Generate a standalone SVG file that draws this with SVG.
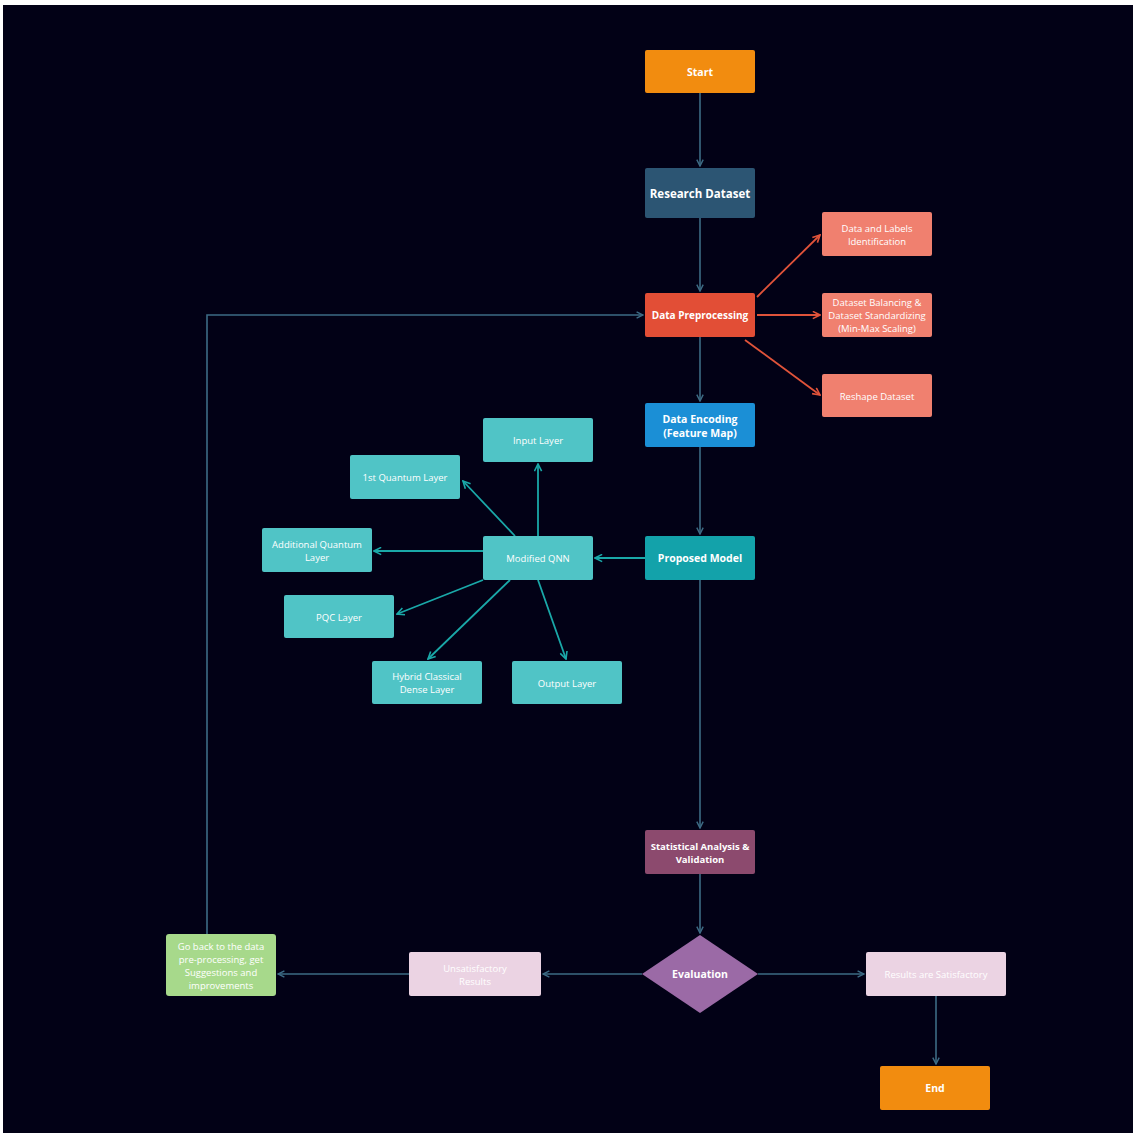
<svg xmlns="http://www.w3.org/2000/svg" width="1137" height="1137" viewBox="0 0 1137 1137">
<style>
text{font-family:"Open Sans","Liberation Sans",sans-serif;fill:#ffffff;text-anchor:middle;dominant-baseline:central}
.b{font-weight:bold;font-size:10.5px}
.r{font-size:9.5px}
.main{stroke:#3d6b85;stroke-width:1.6;fill:none}
.red{stroke:#e0533a;stroke-width:1.8;fill:none}
.teal{stroke:#1aa8a8;stroke-width:1.8;fill:none}
</style>
<defs>
<marker id="aM" viewBox="0 0 10 10" refX="9" refY="5" markerWidth="8" markerHeight="8" orient="auto" markerUnits="userSpaceOnUse"><path d="M1,1 L9,5 L1,9" fill="none" stroke="#3d6b85" stroke-width="1.8"/></marker>
<marker id="aR" viewBox="0 0 10 10" refX="9" refY="5" markerWidth="9" markerHeight="9" orient="auto" markerUnits="userSpaceOnUse"><path d="M1,1 L9,5 L1,9" fill="none" stroke="#e0533a" stroke-width="1.8"/></marker>
<marker id="aT" viewBox="0 0 10 10" refX="9" refY="5" markerWidth="9" markerHeight="9" orient="auto" markerUnits="userSpaceOnUse"><path d="M1,1 L9,5 L1,9" fill="none" stroke="#1aa8a8" stroke-width="1.8"/></marker>
</defs>
<rect x="0" y="0" width="1137" height="1137" fill="#ffffff"/>
<rect x="3" y="5" width="1130" height="1128" fill="#020116"/>
<g id="connectors">
<path class="main" d="M700,93 V166" marker-end="url(#aM)"/>
<path class="main" d="M700,218 V291" marker-end="url(#aM)"/>
<path class="main" d="M700,337 V401" marker-end="url(#aM)"/>
<path class="main" d="M700,447 V534" marker-end="url(#aM)"/>
<path class="main" d="M700,580 V828" marker-end="url(#aM)"/>
<path class="main" d="M700,874 V933" marker-end="url(#aM)"/>
<path class="main" d="M758,974 H864" marker-end="url(#aM)"/>
<path class="main" d="M642,974 H543" marker-end="url(#aM)"/>
<path class="main" d="M409,974 H278" marker-end="url(#aM)"/>
<path class="main" d="M207,934 V315 H643" marker-end="url(#aM)"/>
<path class="main" d="M936,996 V1064" marker-end="url(#aM)"/>
<path class="red" d="M757,297 L820,235" marker-end="url(#aR)"/>
<path class="red" d="M757,315 H820" marker-end="url(#aR)"/>
<path class="red" d="M745,340 L820,395" marker-end="url(#aR)"/>
<path class="teal" d="M645,558 H595" marker-end="url(#aT)"/>
<path class="teal" d="M538,536 V464" marker-end="url(#aT)"/>
<path class="teal" d="M515,536 L463,481" marker-end="url(#aT)"/>
<path class="teal" d="M483,551 H374" marker-end="url(#aT)"/>
<path class="teal" d="M483,580 L397,614" marker-end="url(#aT)"/>
<path class="teal" d="M510,580 L428,659" marker-end="url(#aT)"/>
<path class="teal" d="M538,580 L566,659" marker-end="url(#aT)"/>
</g>
<g id="start"><rect x="645" y="50" width="110" height="43" rx="2" fill="#f28c0f"/><text class="b" x="700" y="72">Start</text></g>
<g id="research"><rect x="645" y="168" width="110" height="50" rx="2" fill="#2c5573"/><text class="b" x="700" y="193" style="font-size:11.5px">Research Dataset</text></g>
<g id="preprocessing"><rect x="645" y="293" width="110" height="44" rx="2" fill="#e24e36"/><text class="b" x="700" y="315" style="font-size:10px">Data Preprocessing</text></g>
<g id="labels"><rect x="822" y="212" width="110" height="44" rx="2" fill="#f0806f"/><text class="r" x="877" y="228">Data and Labels</text><text class="r" x="877" y="241">Identification</text></g>
<g id="balancing"><rect x="822" y="293" width="110" height="44" rx="2" fill="#f0806f"/><text class="r" x="877" y="302">Dataset Balancing &amp;</text><text class="r" x="877" y="315">Dataset Standardizing</text><text class="r" x="877" y="328">(Min-Max Scaling)</text></g>
<g id="reshape"><rect x="822" y="374" width="110" height="43" rx="2" fill="#f0806f"/><text class="r" x="877" y="396">Reshape Dataset</text></g>
<g id="encoding"><rect x="645" y="403" width="110" height="44" rx="2" fill="#1b8fd6"/><text class="b" x="700" y="419">Data Encoding</text><text class="b" x="700" y="433">(Feature Map)</text></g>
<g id="proposed"><rect x="645" y="536" width="110" height="44" rx="2" fill="#13a2aa"/><text class="b" x="700" y="558">Proposed Model</text></g>
<g id="qnn"><rect x="483" y="536" width="110" height="44" rx="2" fill="#50c4c6"/><text class="r" x="538" y="558">Modified QNN</text></g>
<g id="input"><rect x="483" y="418" width="110" height="44" rx="2" fill="#50c4c6"/><text class="r" x="538" y="440">Input Layer</text></g>
<g id="quantum1"><rect x="350" y="455" width="110" height="44" rx="2" fill="#50c4c6"/><text class="r" x="405" y="477">1st Quantum Layer</text></g>
<g id="additional"><rect x="262" y="528" width="110" height="44" rx="2" fill="#50c4c6"/><text class="r" x="317" y="544">Additional Quantum</text><text class="r" x="317" y="557">Layer</text></g>
<g id="pqc"><rect x="284" y="595" width="110" height="43" rx="2" fill="#50c4c6"/><text class="r" x="339" y="617">PQC Layer</text></g>
<g id="hybrid"><rect x="372" y="661" width="110" height="43" rx="2" fill="#50c4c6"/><text class="r" x="427" y="676">Hybrid Classical</text><text class="r" x="427" y="689">Dense Layer</text></g>
<g id="output"><rect x="512" y="661" width="110" height="43" rx="2" fill="#50c4c6"/><text class="r" x="567" y="683">Output Layer</text></g>
<g id="statistical"><rect x="645" y="830" width="110" height="44" rx="2" fill="#8c4a6e"/><text class="b" x="700" y="846" style="font-size:9.5px">Statistical Analysis &amp;</text><text class="b" x="700" y="859" style="font-size:9.5px">Validation</text></g>
<g id="evaluation"><path d="M700,935 L758,974 L700,1013 L642,974 Z" fill="#9b6aa6"/><text class="b" x="700" y="974">Evaluation</text></g>
<g id="satisfactory"><rect x="866" y="952" width="140" height="44" rx="2" fill="#ebd3e3"/><text class="r" x="936" y="974">Results are Satisfactory</text></g>
<g id="unsatisfactory"><rect x="409" y="952" width="132" height="44" rx="2" fill="#ebd3e3"/><text class="r" x="475" y="968">Unsatisfactory</text><text class="r" x="475" y="981">Results</text></g>
<g id="goback"><rect x="166" y="934" width="110" height="62" rx="3" fill="#a7d98b"/><text class="r" x="221" y="946">Go back to the data</text><text class="r" x="221" y="959">pre-processing, get</text><text class="r" x="221" y="972">Suggestions and</text><text class="r" x="221" y="985">improvements</text></g>
<g id="end"><rect x="880" y="1066" width="110" height="44" rx="2" fill="#f28c0f"/><text class="b" x="935" y="1088">End</text></g>
</svg>
